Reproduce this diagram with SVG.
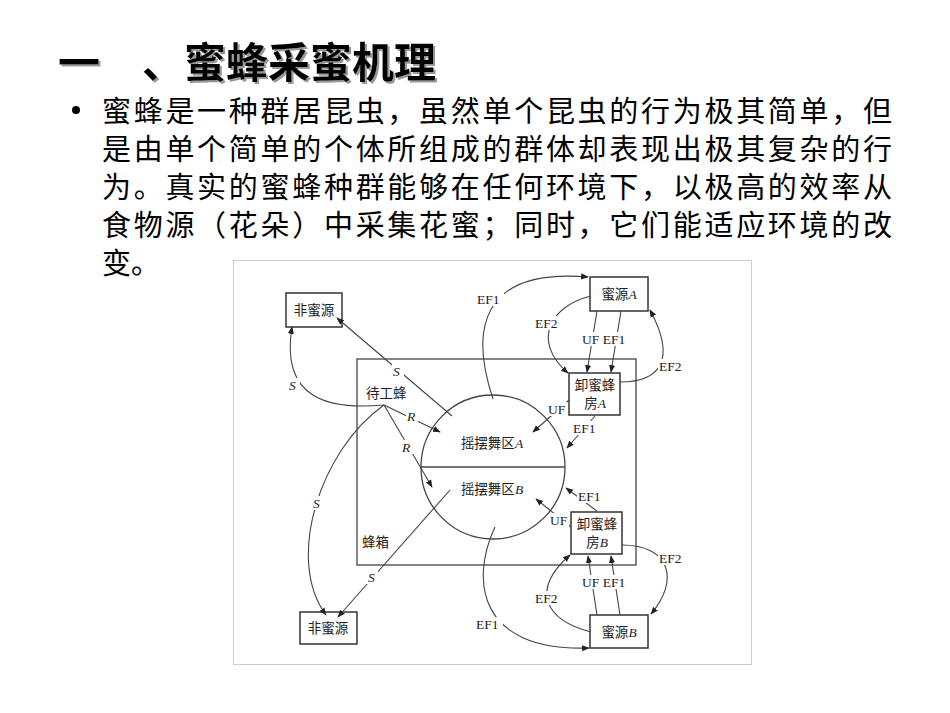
<svg xmlns="http://www.w3.org/2000/svg" width="950" height="713" viewBox="0 0 950 713">
<style>
.t{font-family:"Noto Sans CJK SC","Noto Sans CJK TC",sans-serif;fill:#000}
.d{font-family:"Liberation Serif","Noto Sans CJK SC",serif;font-size:13.5px;fill:#222}
.l{fill:none;stroke:#444;stroke-width:1.1}
.b{fill:#fff;stroke:#333;stroke-width:1.5}
</style>
<defs>
<marker id="a" viewBox="0 0 10 10" refX="9" refY="5" markerWidth="7" markerHeight="7" orient="auto"><path d="M0,1 L10,5 L0,9 z" fill="#222"/></marker>
<filter id="sh"><feDropShadow dx="2" dy="2" stdDeviation="0.5" flood-color="#999"/></filter>
</defs>
<rect width="950" height="713" fill="#fff"/>
<g id="title"><text class="t" font-size="42" font-weight="bold" y="78" filter="url(#sh)"><tspan x="58">一</tspan><tspan x="142">、蜜蜂采蜜机理</tspan></text></g>
<g id="body" class="t" font-size="29">
<circle cx="76" cy="110" r="4" fill="#000"/>
<text x="102" y="122" textLength="790">蜜蜂是一种群居昆虫，虽然单个昆虫的行为极其简单，但</text>
<text x="102" y="160" textLength="790">是由单个简单的个体所组成的群体却表现出极其复杂的行</text>
<text x="102" y="198" textLength="790">为。真实的蜜蜂种群能够在任何环境下，以极高的效率从</text>
<text x="102" y="236" textLength="790">食物源（花朵）中采集花蜜；同时，它们能适应环境的改</text>
<text x="102" y="274">变。</text>
</g>
<rect x="233.5" y="260.5" width="518" height="404" fill="#fff" stroke="#ccc"/>
<g id="hive"><rect x="357" y="359" width="279" height="206" fill="none" stroke="#444" stroke-width="1.3"/><text class="d" x="362" y="547">蜂箱</text><text class="d" x="366" y="398">待工蜂</text></g>
<g id="dance"><circle cx="493" cy="467" r="72" fill="none" stroke="#444" stroke-width="1.3"/><line x1="421" y1="467" x2="565" y2="467" stroke="#444" stroke-width="1.3"/>
<text class="d" x="492" y="448" text-anchor="middle">摇摆舞区<tspan font-style="italic">A</tspan></text>
<text class="d" x="492" y="494" text-anchor="middle">摇摆舞区<tspan font-style="italic">B</tspan></text></g>
<g id="nonA"><rect class="b" x="286" y="293" width="56" height="34"/><text class="d" x="314" y="315" text-anchor="middle">非蜜源</text></g>
<g id="nonB"><rect class="b" x="300" y="612" width="57" height="32"/><text class="d" x="328" y="633" text-anchor="middle">非蜜源</text></g>
<g id="srcA"><rect class="b" x="590" y="277" width="58" height="34"/><text class="d" x="619" y="299" text-anchor="middle">蜜源<tspan font-style="italic">A</tspan></text></g>
<g id="srcB"><rect class="b" x="590" y="615" width="58" height="33"/><text class="d" x="619" y="637" text-anchor="middle">蜜源<tspan font-style="italic">B</tspan></text></g>
<g id="unA"><rect class="b" x="569" y="373" width="51" height="42"/><text class="d" x="595" y="390" text-anchor="middle">卸蜜蜂</text><text class="d" x="595" y="408" text-anchor="middle">房<tspan font-style="italic">A</tspan></text></g>
<g id="unB"><rect class="b" x="571" y="512" width="51" height="42"/><text class="d" x="597" y="529" text-anchor="middle">卸蜜蜂</text><text class="d" x="597" y="547" text-anchor="middle">房<tspan font-style="italic">B</tspan></text></g>
<g id="connectors">
<path class="l" marker-end="url(#a)" d="M384,405 C330,410 280,400 292,327"/>
<path class="l" marker-end="url(#a)" d="M452,416 L337,318"/>
<path class="l" marker-end="url(#a)" d="M384,405 L440,432"/>
<path class="l" marker-end="url(#a)" d="M384,405 L432,487"/>
<path class="l" marker-end="url(#a)" d="M384,405 C320,450 285,560 326,615"/>
<path class="l" marker-end="url(#a)" d="M450,490 L338,617"/>
<path class="l" marker-end="url(#a)" d="M493,399 C470,330 480,268 588,277"/>
<path class="l" marker-end="url(#a)" d="M591,296 C552,305 530,340 568,373"/>
<path class="l" marker-end="url(#a)" d="M597,311 L587,372"/>
<path class="l" marker-end="url(#a)" d="M621,311 L611,372"/>
<path class="l" marker-end="url(#a)" d="M620,382 C662,382 676,358 650,310"/>
<path class="l" marker-end="url(#a)" d="M569,400 L533,432"/>
<path class="l" marker-end="url(#a)" d="M595,416 L567,448"/>
<path class="l" marker-end="url(#a)" d="M597,511 L566,488"/>
<path class="l" marker-end="url(#a)" d="M571,527 L536,499"/>
<path class="l" marker-end="url(#a)" d="M495,527 C470,580 478,652 589,648"/>
<path class="l" marker-end="url(#a)" d="M591,632 C545,620 530,590 570,555"/>
<path class="l" marker-end="url(#a)" d="M597,615 L588,556"/>
<path class="l" marker-end="url(#a)" d="M620,615 L611,556"/>
<path class="l" marker-end="url(#a)" d="M622,545 C670,545 680,580 651,614"/>
</g>
<g id="labels" class="d">
<rect x="286" y="378" width="14" height="14" fill="#fff"/><text x="289" y="390" font-style="italic">S</text>
<rect x="392" y="364" width="12" height="14" fill="#fff"/><text x="393" y="376" font-style="italic">S</text>
<rect x="406" y="409" width="12" height="14" fill="#fff"/><text x="407" y="421" font-style="italic">R</text>
<rect x="401" y="440" width="12" height="14" fill="#fff"/><text x="402" y="452" font-style="italic">R</text>
<rect x="312" y="496" width="12" height="14" fill="#fff"/><text x="313" y="508" font-style="italic">S</text>
<rect x="366" y="570" width="12" height="14" fill="#fff"/><text x="368" y="582" font-style="italic">S</text>
<rect x="476" y="292" width="28" height="14" fill="#fff"/><text x="477" y="304">EF1</text>
<rect x="534" y="316" width="28" height="14" fill="#fff"/><text x="535" y="328">EF2</text>
<rect x="581" y="332" width="52" height="14" fill="#fff"/><text x="582" y="344">UF EF1</text>
<rect x="658" y="359" width="28" height="14" fill="#fff"/><text x="659" y="371">EF2</text>
<rect x="547" y="402" width="20" height="14" fill="#fff"/><text x="548" y="414">UF</text>
<rect x="572" y="421" width="28" height="14" fill="#fff"/><text x="573" y="433">EF1</text>
<rect x="577" y="489" width="28" height="14" fill="#fff"/><text x="578" y="501">EF1</text>
<rect x="549" y="513" width="20" height="14" fill="#fff"/><text x="550" y="525">UF</text>
<rect x="658" y="551" width="28" height="14" fill="#fff"/><text x="659" y="563">EF2</text>
<rect x="581" y="575" width="52" height="14" fill="#fff"/><text x="582" y="587">UF EF1</text>
<rect x="534" y="591" width="28" height="14" fill="#fff"/><text x="535" y="603">EF2</text>
<rect x="475" y="617" width="28" height="14" fill="#fff"/><text x="476" y="629">EF1</text>
</g>
</svg>
